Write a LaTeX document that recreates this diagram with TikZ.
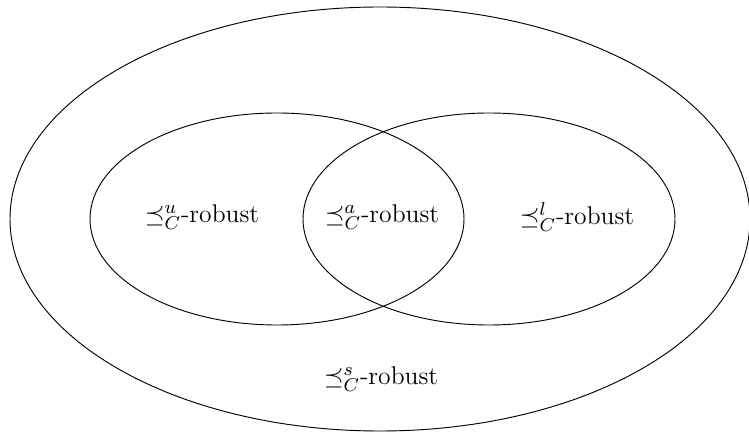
\documentclass[tikz,border=0pt]{standalone}
\begin{document}
\begin{tikzpicture}[x=0.43pt,y=-0.43pt,
  setline/.style={draw=black, line width=0.4pt},
  lbl/.style={inner sep=0pt, font=\fontsize{11}{13}\selectfont}]
\useasboundingbox (0,0) rectangle (749,432);
\begin{scope}
\clip (0,0) rectangle (749,432);
\draw[setline] (380,219) ellipse [x radius=370, y radius=212];
\end{scope}
\draw[setline] (277,219) ellipse [x radius=187, y radius=106];
\draw[setline] (489,219) ellipse [x radius=186, y radius=106];
\node[lbl] (u) at (202,217) {$\preceq^u_C$-robust};
\node[lbl] (a) at (382,217) {$\preceq^a_C$-robust};
\node[lbl] (l) at (577,217) {$\preceq^l_C$-robust};
\node[lbl] (s) at (381,379) {$\preceq^s_C$-robust};
\end{tikzpicture}
\end{document}
